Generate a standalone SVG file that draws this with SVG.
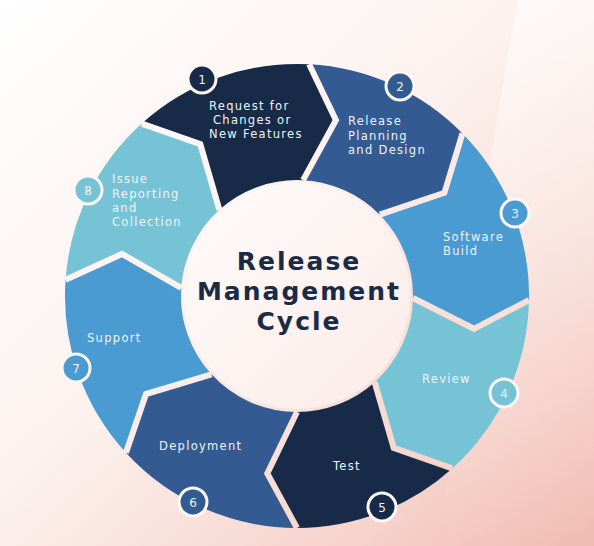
<svg xmlns="http://www.w3.org/2000/svg" width="594" height="546" viewBox="0 0 594 546">
<defs>
<linearGradient id="bg" x1="0" y1="0" x2="1" y2="1">
<stop offset="0" stop-color="#ffffff"/>
<stop offset="0.45" stop-color="#fcf2ef"/>
<stop offset="0.8" stop-color="#f6d2ca"/>
<stop offset="1" stop-color="#f1bbb0"/>
</linearGradient>
<linearGradient id="band" x1="0" y1="0" x2="0" y2="1">
<stop offset="0" stop-color="#ffffff" stop-opacity="0.55"/>
<stop offset="0.6" stop-color="#ffffff" stop-opacity="0.15"/>
<stop offset="1" stop-color="#ffffff" stop-opacity="0"/>
</linearGradient>
<linearGradient id="cg" x1="0" y1="0" x2="1" y2="1">
<stop offset="0" stop-color="#fefcfb"/>
<stop offset="1" stop-color="#fbebe7"/>
</linearGradient>
<mask id="gaps" maskUnits="userSpaceOnUse" x="0" y="0" width="594" height="546">
<rect width="594" height="546" fill="#fff"/>
<g fill="none" stroke="#000" stroke-width="6" stroke-linejoin="miter">
<polyline points="309.14,64.32 335.96,120.27 303.07,180.16"/>
<polyline points="462.47,133.39 444.45,192.76 379.74,214.69"/>
<polyline points="528.97,300.05 473.99,328.80 412.98,298.02"/>
<polyline points="452.24,468.41 393.71,447.81 374.62,382.20"/>
<polyline points="297,528 267.29,473.53 297,412"/>
<polyline points="125.95,452.74 146.04,394.04 211.48,374.37"/>
<polyline points="65.57,279.82 121.97,253.98 181.28,287.91"/>
<polyline points="141.76,123.59 200.29,144.19 219.38,209.80"/>
</g>
</mask>
<style>
.lbl{font-family:"DejaVu Sans",sans-serif;font-size:11.5px;letter-spacing:1.3px;fill:#eef4fa}
.num{font-family:"DejaVu Sans",sans-serif;font-size:12px;fill:#eef3f9;text-anchor:middle}
.badge{stroke:#fcf6f4;stroke-width:3}
.title{font-family:"DejaVu Sans",sans-serif;font-size:25px;font-weight:bold;letter-spacing:2px;fill:#1b2a45;text-anchor:middle}
.c1{fill:#172b48}.c2{fill:#335a91}.c3{fill:#4a9bd1}.c4{fill:#77c3d6}
</style>
</defs>
<rect width="594" height="546" fill="url(#bg)"/>
<path d="M518,0 L594,0 L594,546 L440,546 Q470,260 518,0 Z" fill="url(#band)"/>
<circle cx="297" cy="296" r="113" fill="url(#cg)"/>
<g id="connectors"/>
<g mask="url(#gaps)">
<g id="seg1"><path class="c1" d="M141.76,123.59 A232,232 0 0 1 309.14,64.32 L335.96,120.27 L303.07,180.16 A116,116 0 0 0 219.38,209.80 L200.29,144.19 Z"/></g>
<g id="seg2"><path class="c2" d="M309.14,64.32 A232,232 0 0 1 462.47,133.39 L444.45,192.76 L379.74,214.69 A116,116 0 0 0 303.07,180.16 L335.96,120.27 Z"/></g>
<g id="seg3"><path class="c3" d="M462.47,133.39 A232,232 0 0 1 528.97,300.05 L473.99,328.80 L412.98,298.02 A116,116 0 0 0 379.74,214.69 L444.45,192.76 Z"/></g>
<g id="seg4"><path class="c4" d="M528.97,300.05 A232,232 0 0 1 452.24,468.41 L393.71,447.81 L374.62,382.20 A116,116 0 0 0 412.98,298.02 L473.99,328.80 Z"/></g>
<g id="seg5"><path class="c1" d="M452.24,468.41 A232,232 0 0 1 297,528 L267.29,473.53 L297,412 A116,116 0 0 0 374.62,382.20 L393.71,447.81 Z"/></g>
<g id="seg6"><path class="c2" d="M297,528 A232,232 0 0 1 125.95,452.74 L146.04,394.04 L211.48,374.37 A116,116 0 0 0 297,412 L267.29,473.53 Z"/></g>
<g id="seg7"><path class="c3" d="M125.95,452.74 A232,232 0 0 1 65.57,279.82 L121.97,253.98 L181.28,287.91 A116,116 0 0 0 211.48,374.37 L146.04,394.04 Z"/></g>
<g id="seg8"><path class="c4" d="M65.57,279.82 A232,232 0 0 1 141.76,123.59 L200.29,144.19 L219.38,209.80 A116,116 0 0 0 181.28,287.91 L121.97,253.98 Z"/></g>
</g>
<g id="node1">
<text class="lbl" x="209" y="110">Request for</text>
<text class="lbl" x="213" y="124">Changes or</text>
<text class="lbl" x="209" y="138">New Features</text>
<circle class="badge c1" cx="202" cy="79" r="14"/><text class="num" x="202" y="83.5">1</text>
</g>
<g id="node2">
<text class="lbl" x="348" y="125">Release</text>
<text class="lbl" x="348" y="140">Planning</text>
<text class="lbl" x="348" y="154">and Design</text>
<circle class="badge c2" cx="400" cy="86" r="14"/><text class="num" x="400" y="90.5">2</text>
</g>
<g id="node3">
<text class="lbl" x="443" y="241">Software</text>
<text class="lbl" x="443" y="255">Build</text>
<circle class="badge c3" cx="515" cy="213" r="14"/><text class="num" x="515" y="217.5">3</text>
</g>
<g id="node4">
<text class="lbl" x="422" y="383">Review</text>
<circle class="badge c4" cx="504" cy="393" r="14"/><text class="num" x="504" y="397.5">4</text>
</g>
<g id="node5">
<text class="lbl" x="333" y="470">Test</text>
<circle class="badge c1" cx="382" cy="507" r="14"/><text class="num" x="382" y="511.5">5</text>
</g>
<g id="node6">
<text class="lbl" x="159" y="450">Deployment</text>
<circle class="badge c2" cx="193" cy="502" r="14"/><text class="num" x="193" y="506.5">6</text>
</g>
<g id="node7">
<text class="lbl" x="87" y="342">Support</text>
<circle class="badge c3" cx="76" cy="368" r="14"/><text class="num" x="76" y="372.5">7</text>
</g>
<g id="node8">
<text class="lbl" x="112" y="183">Issue</text>
<text class="lbl" x="112" y="198">Reporting</text>
<text class="lbl" x="112" y="212">and</text>
<text class="lbl" x="112" y="226">Collection</text>
<circle class="badge c4" cx="88" cy="190" r="14"/><text class="num" x="88" y="194.5">8</text>
</g>
<g id="center">
<text class="title" x="299" y="270">Release</text>
<text class="title" x="299" y="300">Management</text>
<text class="title" x="299" y="330">Cycle</text>
</g>
</svg>
